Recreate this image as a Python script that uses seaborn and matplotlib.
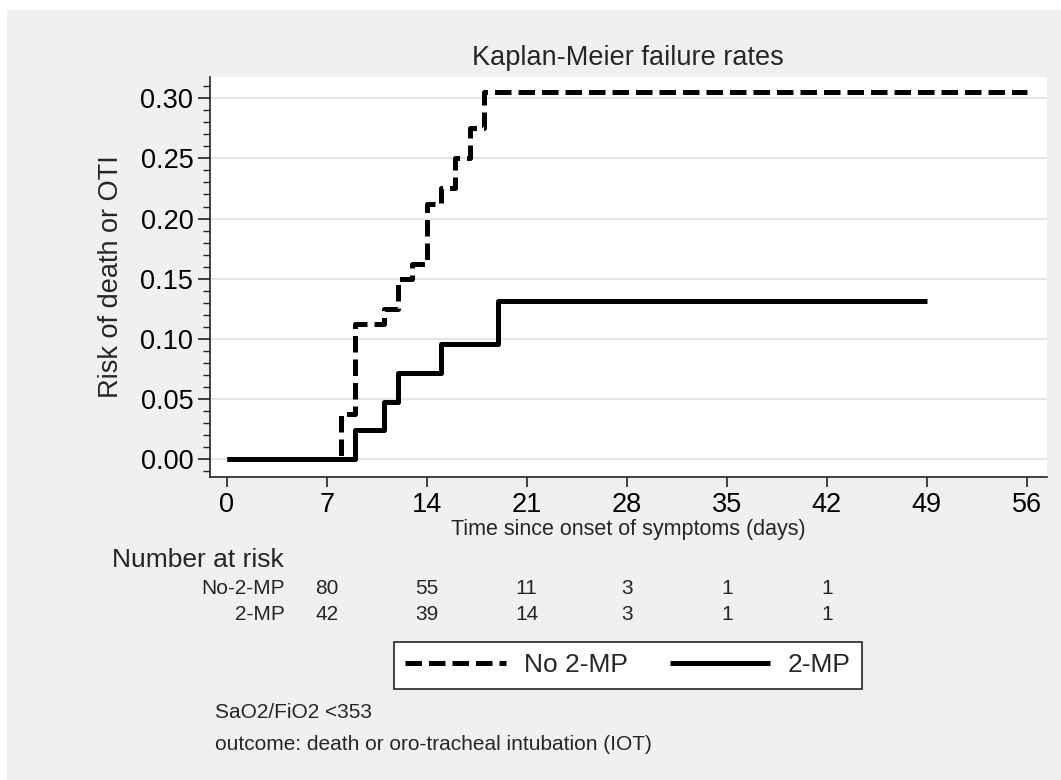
import seaborn as sns
import matplotlib
matplotlib.use("Agg")
import matplotlib.pyplot as plt
from matplotlib.lines import Line2D
from matplotlib.patches import Rectangle
from matplotlib.ticker import MultipleLocator, FormatStrFormatter
import matplotlib.transforms as mtrans
import numpy as np
import pandas as pd

sns.set_theme(style="ticks", rc={"axes.facecolor": "white", "figure.facecolor": "white"})
plt.rcParams["font.family"] = ["Liberation Sans", "DejaVu Sans"]

# Kaplan-Meier failure estimates
no_2mp_days = [0, 8, 9, 11, 12, 13, 14, 15, 16, 17, 18, 56]
no_2mp_risk = [0, 0.0375, 0.1125, 0.125, 0.15, 0.1625, 0.2125, 0.225, 0.25, 0.275, 0.305, 0.305]
mp_days = [0, 9, 11, 12, 15, 19, 49]
mp_risk = [0, 0.0238, 0.0476, 0.0714, 0.0952, 0.131, 0.131]

# number at risk table
risk_days = [7, 14, 21, 28, 35, 42]
no_2mp_at_risk = [80, 55, 11, 3, 1, 1]
mp_at_risk = [42, 39, 14, 3, 1, 1]

groups = ["No 2-MP", "2-MP"]
row_labels = ["No-2-MP", "2-MP"]

df = pd.concat([
    pd.DataFrame({"time": no_2mp_days, "risk": no_2mp_risk, "group": groups[0]}),
    pd.DataFrame({"time": mp_days, "risk": mp_risk, "group": groups[1]}),
])

W, H = 1061, 780
fig = plt.figure(figsize=(W / 100, H / 100), dpi=100)
fig.patches.append(Rectangle((7 / W, 0), 1, 1 - 10 / H, transform=fig.transFigure,
                             facecolor="#f0f0f0", edgecolor="none", zorder=-10))
ax = fig.add_axes([210 / W, 1 - 476.7 / H, 836.7 / W, 399.4 / H])

lw = 3.6
dash = (3.3, 1.4)
sns.lineplot(data=df, x="time", y="risk", style="group", style_order=groups,
             dashes={groups[0]: dash, groups[1]: ""}, color="black", lw=lw,
             drawstyle="steps-post", estimator=None, legend=False, ax=ax)
for line in ax.get_lines():
    line.set_dash_capstyle("butt")
    line.set_solid_capstyle("butt")

ax.set_xlim(-1.17, 57.4)
ax.set_ylim(-0.0148, 0.3175)
ax.set_xticks(np.arange(0, 57, 7))
ax.set_yticks(np.arange(0, 0.31, 0.05))
ax.yaxis.set_major_formatter(FormatStrFormatter("%.2f"))
ax.yaxis.set_minor_locator(MultipleLocator(0.01))
ax.tick_params(axis="both", labelsize=19.5, colors="#222222", labelcolor="black", width=1.2)
ax.tick_params(axis="x", length=7, pad=4)
ax.tick_params(axis="y", which="major", length=8.5, pad=3.5)
ax.tick_params(axis="y", which="minor", length=5, width=1.0, colors="#222222")
ax.grid(axis="y", which="major", color="#e6e6e6", lw=1.6)
ax.set_axisbelow(True)
sns.despine(ax=ax)
for s in ["left", "bottom"]:
    ax.spines[s].set_color("#222222")
    ax.spines[s].set_linewidth(1.2)

ax.set_xlabel("Time since onset of symptoms (days)", fontsize=15.5, labelpad=1)
ax.set_ylabel("Risk of death or OTI", fontsize=19.5, labelpad=12)
ax.set_title("Kaplan-Meier failure rates", fontsize=19.5, pad=9)

# number at risk
blend = mtrans.blended_transform_factory(ax.transData, fig.transFigure)
fig.text(112 / W, 1 - 560 / H, "Number at risk", fontsize=19, ha="left", va="center")
for label, vals, ypx in zip(row_labels, [no_2mp_at_risk, mp_at_risk], [589, 614]):
    fig.text(285 / W, 1 - ypx / H, label, fontsize=15, ha="right", va="center")
    for d, v in zip(risk_days, vals):
        ax.text(d, 1 - ypx / H, str(v), transform=blend, fontsize=15,
                ha="center", va="center", clip_on=False)

handles = [Line2D([], [], color="black", lw=lw, dashes=dash, dash_capstyle="butt"),
           Line2D([], [], color="black", lw=lw, solid_capstyle="butt")]
leg = fig.legend(handles, groups, loc="center", bbox_to_anchor=(628 / W, 1 - 665.5 / H),
                 ncol=2, fontsize=19, frameon=True, fancybox=False, framealpha=1,
                 edgecolor="#222222", facecolor="white", handlelength=3.8,
                 handletextpad=0.68, columnspacing=1.6, borderpad=0.42, borderaxespad=0)
leg.get_frame().set_linewidth(1.2)

fig.text(215 / W, 1 - 713 / H, "SaO2/FiO2 <353", fontsize=15, ha="left", va="center")
fig.text(215 / W, 1 - 745 / H, "outcome: death or oro-tracheal intubation (IOT)",
         fontsize=15, ha="left", va="center")

fig.savefig("out.png", dpi=100)
